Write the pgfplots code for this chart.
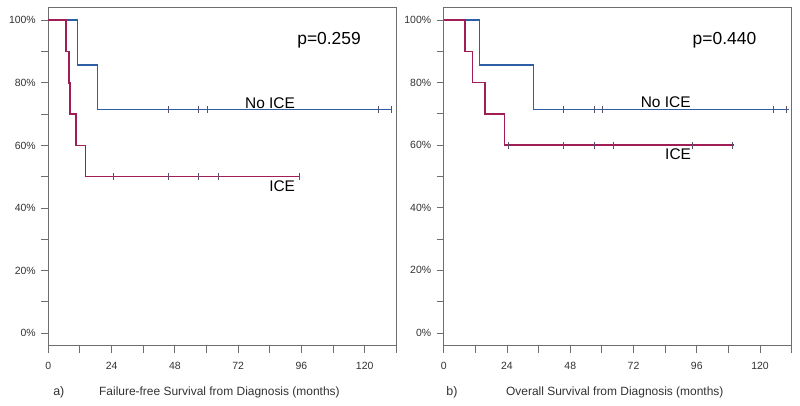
\documentclass[border=0pt]{standalone}
\usepackage{pgfplots}
\pgfplotsset{compat=1.18}
\usepackage{fontspec}
\setmainfont{Liberation Sans}
\definecolor{kmblue}{RGB}{45,95,165}
\definecolor{kmred}{RGB}{160,30,85}
\definecolor{censor}{RGB}{90,80,110}
\definecolor{framegray}{RGB}{110,110,110}
\definecolor{labgray}{RGB}{50,50,50}
\pgfplotsset{kmaxis/.style={
  scale only axis, width=348bp, height=338bp,
  xmin=0, xmax=132, ymin=-4, ymax=104,
  xtick={0,24,...,120}, minor xtick={12,36,...,132},
  ytick={0,20,...,100}, minor ytick={10,30,...,90},
  yticklabels={0\%,20\%,40\%,60\%,80\%,100\%},
  xtick pos=bottom, ytick pos=left,
  tick align=outside,
  major tick length=7bp, minor tick length=7bp,
  axis line style={framegray, line width=0.9bp},
  tick style={framegray, line width=0.9bp},
  tick label style={font=\fontsize{10.5}{12}\selectfont, text=labgray},
  xticklabel style={yshift=-6bp},
  yticklabel style={xshift=-2bp},
  clip=false,
  /pgf/number format/assume math mode=true,
}}
\begin{document}
\begin{tikzpicture}[x=1bp,y=1bp]
\useasboundingbox (0bp,0bp) rectangle (800bp,406bp);
% ---------- panel a ----------
\begin{axis}[kmaxis, at={(48.3bp,60.3bp)}, anchor=south west]
\addplot[kmblue, line width=1.6bp, const plot] coordinates {(0,100) (11.0,85.71) (18.7,71.43) (130.4,71.43)};
\addplot[kmred, line width=1.6bp, const plot] coordinates {(0,100) (6.6,90) (7.8,80) (8.3,70) (10.5,60) (14.1,50) (95.4,50)};
\addplot[only marks, mark=|, mark size=3.5bp, censor, mark options={line width=0.8bp}] coordinates {(45.4,71.43) (57.1,71.43) (60.5,71.43) (125.1,71.43) (130,71.43)};
\addplot[only marks, mark=|, mark size=3.5bp, censor, mark options={line width=0.8bp}] coordinates {(24.7,50) (45.4,50) (57.1,50) (64.5,50) (95.1,50)};
\node[anchor=base, font=\fontsize{17.5}{20}\selectfont] at (axis cs:106.5,92.3) {p=0.259};
\node[anchor=base, font=\fontsize{15.5}{18}\selectfont] at (axis cs:84.1,71.9) {No ICE};
\node[anchor=base, font=\fontsize{15.5}{18}\selectfont] at (axis cs:88.7,45.3) {ICE};
\node[font=\fontsize{12.5}{14}\selectfont, text=labgray] at (axis cs:4,-18.9) {a)};
\node[font=\fontsize{12}{14}\selectfont, text=labgray] at (axis cs:64.9,-18.9) {Failure-free Survival from Diagnosis (months)};
\end{axis}
% ---------- panel b ----------
\begin{axis}[kmaxis, at={(443.7bp,60.5bp)}, anchor=south west]
\addplot[kmblue, line width=1.6bp, const plot] coordinates {(0,100) (13.6,85.71) (34.0,71.43) (131,71.43)};
\addplot[kmred, line width=1.6bp, const plot] coordinates {(0,100) (8.0,90) (10.9,80) (15.7,70) (23.1,60) (110,60)};
\addplot[only marks, mark=|, mark size=3.5bp, censor, mark options={line width=0.8bp}] coordinates {(45.4,71.43) (57.1,71.43) (60.3,71.43) (125.1,71.43) (129.9,71.43)};
\addplot[only marks, mark=|, mark size=3.5bp, censor, mark options={line width=0.8bp}] coordinates {(24.5,60) (45.4,60) (57.1,60) (64.3,60) (94.3,60) (109.6,60)};
\node[anchor=base, font=\fontsize{17.5}{20}\selectfont] at (axis cs:106.5,92.3) {p=0.440};
\node[anchor=base, font=\fontsize{15.5}{18}\selectfont] at (axis cs:84.2,71.9) {No ICE};
\node[anchor=base, font=\fontsize{15.5}{18}\selectfont] at (axis cs:88.9,55.5) {ICE};
\node[font=\fontsize{12.5}{14}\selectfont, text=labgray] at (axis cs:3.1,-18.9) {b)};
\node[font=\fontsize{12}{14}\selectfont, text=labgray] at (axis cs:64.9,-18.9) {Overall Survival from Diagnosis (months)};
\end{axis}
\end{tikzpicture}
\end{document}
